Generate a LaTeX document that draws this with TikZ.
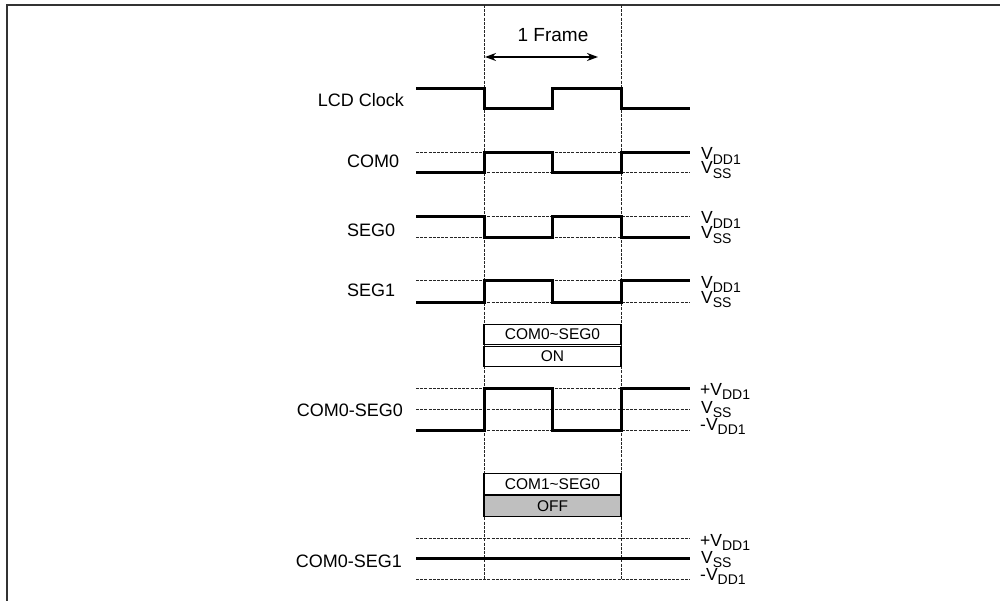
\documentclass[tikz,border=0pt]{standalone}
\usepackage{fontspec}
\setmainfont{Liberation Sans}
\usetikzlibrary{arrows.meta}
\newcommand\sbs[1]{\smash{\raisebox{-0.5ex}{\fontsize{14}{14}\selectfont #1}}}
\begin{document}
\begin{tikzpicture}[x=1pt,y=-1pt,
  wave/.style={line width=3pt, line join=miter},
  refl/.style={line width=1pt, dash pattern=on 3pt off 1.2pt, black!85},
  lbl/.style={font=\fontsize{18}{20}\selectfont, inner sep=0pt},
  vl/.style={font=\fontsize{17.5}{20}\selectfont, inner sep=0pt, anchor=base west},
  bx/.style={draw, line width=1.4pt, minimum width=137pt, minimum height=20.5pt, inner sep=0pt, font=\fontsize{15.5}{17}\selectfont}
]
\useasboundingbox (0,0) rectangle (1000,601);
% frame
\draw[line width=1.5pt, black!80] (7,601) -- (7,5) -- (1000,5);
% frame markers
\draw[refl] (484,5) -- (484,580);
\draw[refl] (621,5) -- (621,580);
\node[lbl, font=\fontsize{19}{21}\selectfont] (frame) at (553,35) {1 Frame};
\draw[line width=1.8pt, {Stealth[length=11pt,width=8pt]}-{Stealth[length=11pt,width=8pt]}] (485,57) -- (598,57);

% LCD Clock
\node[lbl, anchor=base east] (lcd) at (404,107) {LCD Clock};
\draw[wave] (416,89) -- (484,89) -- (484,109) -- (552,109) -- (552,89) -- (621,89) -- (621,109) -- (690,109);

% COM0
\node[lbl, anchor=base west] (com0) at (347,168) {COM0};
\draw[refl] (416,153) -- (690,153);
\draw[refl] (416,173) -- (690,173);
\draw[wave] (416,173) -- (484,173) -- (484,153) -- (552,153) -- (552,173) -- (621,173) -- (621,153) -- (690,153);
\node[vl] (c0a) at (701,160) {V\sbs{DD1}};
\node[vl] (c0b) at (701,174) {V\sbs{SS}};

% SEG0
\node[lbl, anchor=base west] (seg0) at (347,237) {SEG0};
\draw[refl] (416,217) -- (690,217);
\draw[refl] (416,238) -- (690,238);
\draw[wave] (416,217) -- (484,217) -- (484,238) -- (552,238) -- (552,217) -- (621,217) -- (621,238) -- (690,238);
\node[vl] (s0a) at (701,224) {V\sbs{DD1}};
\node[vl] (s0b) at (701,239) {V\sbs{SS}};

% SEG1
\node[lbl, anchor=base west] (seg1) at (347,296) {SEG1};
\draw[refl] (416,281) -- (690,281);
\draw[refl] (416,302) -- (690,302);
\draw[wave] (416,302) -- (484,302) -- (484,281) -- (552,281) -- (552,302) -- (621,302) -- (621,281) -- (690,281);
\node[vl] (s1a) at (701,288) {V\sbs{DD1}};
\node[vl] (s1b) at (701,303) {V\sbs{SS}};

% boxes ON
\node[bx, fill=white] (b1) at (552.5,334.5) {COM0\textasciitilde SEG0};
\node[bx, fill=white] (b2) at (552.5,356.5) {ON};

% COM0-SEG0
\node[lbl, anchor=base east] (cs0) at (403,416) {COM0-SEG0};
\draw[refl] (416,388) -- (690,388);
\draw[refl] (416,409) -- (690,409);
\draw[refl] (416,430) -- (690,430);
\draw[wave] (416,430) -- (484,430) -- (484,388) -- (552,388) -- (552,430) -- (621,430) -- (621,388) -- (690,388);
\node[vl] (cs0a) at (700,395) {+V\sbs{DD1}};
\node[vl] (cs0b) at (701,413) {V\sbs{SS}};
\node[vl] (cs0c) at (700,430) {-V\sbs{DD1}};

% boxes OFF
\node[bx, fill=white] (b3) at (552.5,484) {COM1\textasciitilde SEG0};
\node[bx, fill=black!25] (b4) at (552.5,506) {OFF};

% COM0-SEG1
\node[lbl, anchor=base east] (cs1) at (402,567) {COM0-SEG1};
\draw[refl] (416,538) -- (690,538);
\draw[refl] (416,579) -- (690,579);
\draw[wave] (416,558) -- (690,558);
\node[vl] (cs1a) at (700,546) {+V\sbs{DD1}};
\node[vl] (cs1b) at (701,563) {V\sbs{SS}};
\node[vl] (cs1c) at (700,580) {-V\sbs{DD1}};
\end{tikzpicture}
\end{document}
